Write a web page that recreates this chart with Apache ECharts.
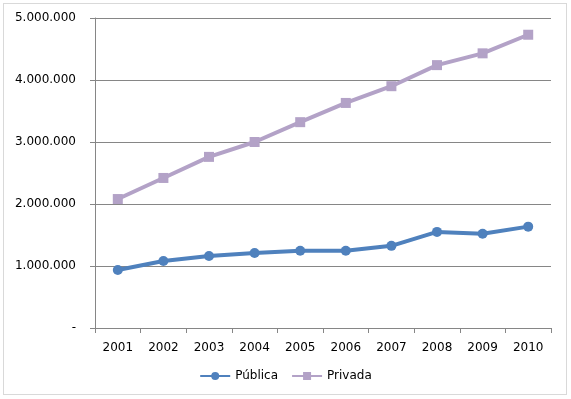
<!DOCTYPE html>
<html>
<head>
<meta charset="utf-8">
<script src="https://cdn.jsdelivr.net/npm/echarts@6/dist/echarts.min.js"></script>
<style>
  html, body { margin: 0; padding: 0; background: #fff; }
  #frame { position: absolute; left: 3px; top: 3px; width: 564px; height: 392px; border: 1px solid #d9d9d9; box-sizing: border-box; }
  #chart { position: absolute; left: 0; top: 0; width: 571px; height: 399px; }
</style>
</head>
<body>
<div id="frame"></div>
<div id="chart"></div>
<script>
// anos e matrículas (pública / privada)
const years = ["2001", "2002", "2003", "2004", "2005", "2006", "2007", "2008", "2009", "2010"];
const publica = [935000, 1080000, 1160000, 1210000, 1245000, 1245000, 1325000, 1550000, 1520000, 1635000];
const privada = [2080000, 2420000, 2760000, 3000000, 3320000, 3630000, 3900000, 4240000, 4430000, 4730000];

const chart = echarts.init(document.getElementById("chart"), null, { renderer: "canvas" });

const fmt = (v) => (v === 0 ? "-" : v.toLocaleString("de-DE"));

chart.setOption({
  animation: false,
  textStyle: { fontFamily: "DejaVu Sans" },
  grid: { left: 95, right: 20, top: 18, bottom: 71 },
  legend: {
    bottom: 12,
    left: "center",
    itemWidth: 30,
    itemHeight: 10,
    itemGap: 13,
    textStyle: { color: "#000", fontSize: 12 },
    data: ["Pública", "Privada"],
  },
  xAxis: {
    type: "category",
    data: years,
    boundaryGap: true,
    axisLine: { lineStyle: { color: "#868686", width: 1 } },
    axisTick: { show: true, alignWithLabel: false, length: 5, lineStyle: { color: "#868686" } },
    axisLabel: { color: "#000", fontSize: 12, margin: 14 },
  },
  yAxis: {
    type: "value",
    min: 0,
    max: 5000000,
    interval: 1000000,
    axisLine: { show: true, lineStyle: { color: "#868686", width: 1 } },
    axisTick: { show: true, inside: false, length: 5, lineStyle: { color: "#868686" } },
    axisLabel: { color: "#000", fontSize: 12, margin: 19, formatter: fmt },
    splitLine: { lineStyle: { color: "#868686", width: 1 } },
  },
  series: [
    {
      name: "Pública",
      type: "line",
      data: publica,
      symbol: "circle",
      symbolSize: 10,
      lineStyle: { color: "#4F81BD", width: 4 },
      itemStyle: { color: "#4F81BD" },
    },
    {
      name: "Privada",
      type: "line",
      data: privada,
      symbol: "rect",
      symbolSize: 10,
      lineStyle: { color: "#B3A2C7", width: 4 },
      itemStyle: { color: "#B3A2C7" },
    },
  ],
});
</script>
</body>
</html>
